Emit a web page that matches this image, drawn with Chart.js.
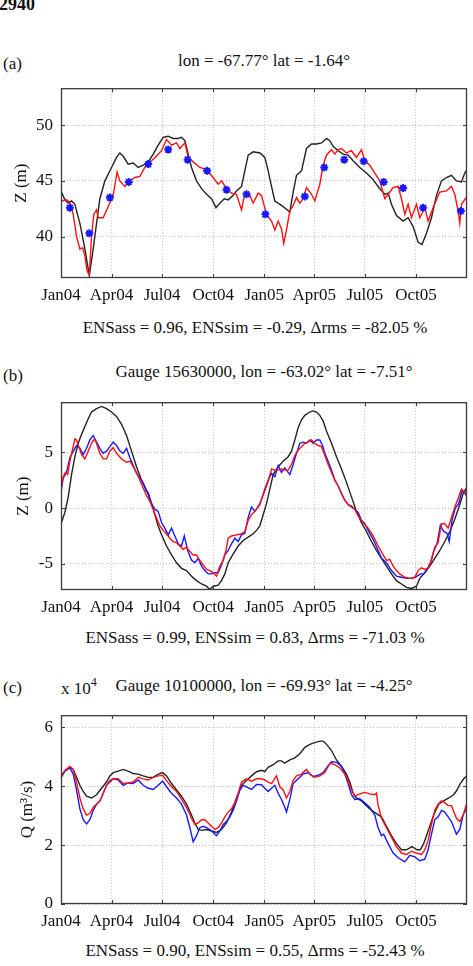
<!DOCTYPE html>
<html>
<head>
<meta charset="utf-8">
<script src="https://cdn.jsdelivr.net/npm/chart.js@4.4.1/dist/chart.umd.min.js"></script>
<style>
html, body { margin: 0; padding: 0; background: #fff; }
#page { position: relative; width: 473px; height: 966px; overflow: hidden; background: #fff;
        font-family: 'Liberation Serif', 'Times New Roman', serif; color: #111; }
#page canvas { position: absolute; left: 0; }
.t { position: absolute; font-size: 17px; line-height: 1; white-space: nowrap; transform: translate(-50%, -50%); }
.l { position: absolute; font-size: 17px; line-height: 1; white-space: nowrap; transform: translateY(-50%); }
#pageno { position: absolute; left: -1px; top: -5px; font-size: 18px; font-weight: bold; line-height: 18px; }
.exp { font-size: 12px; position: relative; top: -8px; }
</style>
</head>
<body>
<div id="page">
    <div id="pageno">2940</div>

    <div class="l" style="left:3px; top:63px">(a)</div>
    <div class="t" style="left:264px; top:59.5px">lon = -67.77° lat = -1.64°</div>
    <canvas id="chart_a" width="473" height="240" style="top:70px"></canvas>
    <div class="t" style="left:255px; top:326.5px">ENSass = 0.96, ENSsim = -0.29, Δrms = -82.05 %</div>

    <div class="l" style="left:3px; top:374.5px">(b)</div>
    <div class="t" style="left:264px; top:371px">Gauge 15630000, lon = -63.02° lat = -7.51°</div>
    <canvas id="chart_b" width="473" height="240" style="top:384px"></canvas>
    <div class="t" style="left:255px; top:636.5px">ENSass = 0.99, ENSsim = 0.83, Δrms = -71.03 %</div>

    <div class="l" style="left:3px; top:686.5px">(c)</div>
    <div class="l" style="left:61px; top:688px">x 10<span class="exp">4</span></div>
    <div class="t" style="left:264px; top:685px">Gauge 10100000, lon = -69.93° lat = -4.25°</div>
    <canvas id="chart_c" width="473" height="240" style="top:697px"></canvas>
    <div class="t" style="left:255px; top:949.5px">ENSass = 0.90, ENSsim = 0.55, Δrms = -52.43 %</div>
</div>

<script>
// ── Axes (days since 1 Jan 2004) ─────────────────────────────────────────────
var xTickDays   = [0, 91, 182, 274, 366, 456, 547, 639];
var xTickLabels = ['Jan04', 'Apr04', 'Jul04', 'Oct04', 'Jan05', 'Apr05', 'Jul05', 'Oct05'];
var xEndDay     = 731;

var aYTicks = [40, 45, 50];
var bYTicks = [-5, 0, 5];
var cYTicks = [0, 2, 4, 6];

// ── (a) water level Z (m), lon -67.77 lat -1.64 ──────────────────────────────
// free run (black)
var aSimDays = [0,7,13,19,25,34,43,51,58,64,70,79,91,100,106,112,121,130,139,148,157,166,175,184,193,202,211,217,223,229,235,244,253,262,271,279,286,294,301,310,316,325,331,337,346,358,367,373,379,385,397,405,412,418,424,433,442,451,460,469,478,484,490,499,508,517,526,538,550,562,574,583,589,595,604,616,625,634,643,650,658,667,676,685,694,703,712,721,727,731];
var aSimZ    = [44.1,43.3,43.0,43.2,42.9,41.2,38.9,36.5,38.9,41.2,43.4,45.0,46.2,47.1,47.5,47.2,46.5,46.6,46.2,46.4,46.7,47.4,48.2,48.9,49.0,48.8,48.8,48.9,48.6,47.4,46.2,45.0,44.3,43.8,43.4,42.6,43.0,43.4,43.3,43.7,44.1,44.5,45.9,47.3,47.6,47.5,47.1,45.9,44.5,43.2,42.8,42.5,42.2,44.0,45.5,45.9,47.9,48.3,48.3,48.4,48.8,48.6,48.1,47.7,47.4,47.3,46.8,46.2,45.7,45.1,44.3,43.8,43.9,42.9,41.9,41.4,41.7,40.9,39.5,39.3,40.3,41.7,43.7,45.0,45.3,45.5,45.0,44.9,45.7,46.0];
// assimilation run (red)
var aAssDays = [0,10,16,22,28,34,39,43,47,51,55,59,64,67,76,85,94,101,106,115,124,133,142,154,163,172,181,190,199,208,214,223,229,238,250,262,274,283,289,298,307,316,325,331,340,346,355,361,370,379,385,391,397,401,406,412,418,424,430,436,442,451,457,466,472,478,487,493,499,505,514,523,532,541,547,556,565,574,583,589,598,607,613,619,625,631,640,646,655,661,670,682,694,703,709,715,718,721,731];
var aAssZ    = [43.2,43.3,43.1,42.0,40.0,38.9,39.0,38.3,36.9,36.6,40.0,42.0,42.4,41.7,41.7,42.7,43.7,45.8,45.0,44.5,45.0,45.3,45.4,46.5,46.8,47.2,47.7,48.7,48.2,48.4,47.9,48.4,47.1,46.7,46.2,46.0,45.3,44.7,45.0,44.3,43.9,43.8,42.4,43.9,43.7,43.0,43.9,43.7,42.0,41.4,40.6,41.4,40.7,39.4,40.6,42.3,42.8,43.5,43.0,43.4,44.4,43.8,43.2,44.7,46.4,47.3,47.8,47.4,47.8,47.9,47.5,47.7,47.1,47.8,46.8,46.4,45.7,45.0,43.4,43.8,44.4,44.5,43.4,42.0,42.9,41.7,42.9,41.7,42.6,41.4,42.6,44.0,44.1,44.5,43.8,42.3,41.2,42.9,43.6];
// altimetry (blue stars)
var aObsDays = [16,51,88,122,157,193,228,263,298,334,368,439,474,510,545,581,616,652,720];
var aObsZ    = [42.6,40.3,43.5,44.9,46.5,47.8,46.9,45.9,44.2,43.8,42.0,43.6,46.2,46.9,46.75,44.9,44.35,42.6,42.3];

// ── (b) water level Z (m), gauge 15630000 ────────────────────────────────────
var bSimDays = [0,7,13,19,25,31,37,43,49,55,64,73,82,91,100,109,118,127,136,145,154,163,169,175,181,190,199,208,217,226,235,244,253,262,268,274,283,289,295,301,310,319,328,337,346,352,358,364,370,376,382,391,400,409,415,421,427,433,439,448,454,460,466,472,478,487,496,505,514,523,532,541,550,559,568,577,586,595,604,613,622,631,640,646,655,664,673,682,691,700,709,718,724,731];
var bSimZ    = [-1.4,-0.4,1.0,3.0,4.6,5.8,6.6,7.3,8.0,8.6,8.9,9.1,8.9,8.6,8.2,7.5,6.5,5.1,3.7,2.5,1.6,0.4,-0.6,-1.6,-2.4,-3.4,-4.2,-4.9,-5.4,-5.6,-6.1,-6.5,-6.8,-7.0,-7.3,-7.0,-6.9,-6.5,-5.9,-4.9,-4.1,-3.4,-2.9,-2.6,-2.3,-2.0,-1.6,-0.6,0.4,1.7,3.0,3.7,4.2,4.6,5.1,6.1,7.2,7.9,8.3,8.6,8.7,8.6,8.3,7.8,6.9,5.8,4.6,3.5,2.3,1.0,-0.3,-1.3,-2.1,-3.0,-3.8,-4.5,-5.2,-5.9,-6.5,-6.8,-7.1,-7.2,-7.0,-6.3,-5.8,-5.2,-4.5,-3.8,-3.0,-2.1,-1.0,0.3,1.3,1.9];
var bAssDays = [0,4,8,12,16,20,25,28,32,37,43,49,55,60,64,70,76,82,88,94,100,109,118,124,130,136,142,148,154,160,166,172,178,184,190,196,202,208,214,220,226,232,238,244,250,256,262,268,274,280,286,292,297,301,307,316,325,331,337,343,349,358,367,373,379,385,391,397,403,409,415,421,427,433,439,445,451,457,463,469,475,481,487,493,499,505,511,517,523,529,535,544,553,562,571,580,586,592,598,604,610,619,628,637,643,649,655,661,667,673,679,685,691,697,703,709,715,721,727,731];
var bAssZ    = [1.8,2.8,3.2,3.0,4.2,5.1,6.2,6.1,5.5,4.8,4.4,5.1,5.8,6.2,5.8,4.9,4.4,4.4,5.1,5.4,4.9,4.4,4.1,4.2,3.7,3.2,2.5,1.8,1.1,0.6,-0.1,-0.9,-1.6,-2.0,-2.3,-2.7,-3.0,-3.1,-3.4,-3.7,-3.5,-3.9,-4.2,-4.2,-4.7,-5.1,-5.5,-5.6,-5.8,-6.1,-5.2,-4.7,-3.8,-2.7,-2.5,-2.4,-2.3,-2.1,-1.1,-0.6,-0.3,0.4,1.55,2.4,3.5,3.4,3.4,3.5,3.4,3.4,3.9,4.7,5.2,5.5,5.8,5.9,6.1,5.8,5.6,5.5,4.7,3.9,3.2,2.5,2.0,1.3,0.7,0.3,0.2,-0.1,-0.7,-1.3,-1.8,-2.5,-3.4,-4.2,-4.7,-4.6,-5.2,-5.6,-5.9,-6.2,-6.3,-6.2,-5.6,-5.35,-5.5,-5.35,-4.7,-3.5,-3.1,-1.4,-1.4,-1.8,-0.85,0.1,0.85,1.7,1.4,1.55];
var bObsDays = [0,4,10,16,22,28,34,40,46,52,58,64,70,76,82,88,94,100,106,112,118,124,130,136,142,148,153,157,163,169,175,181,187,193,199,205,211,217,222,228,235,241,247,253,259,265,271,277,283,289,295,301,307,313,319,325,331,337,343,349,358,367,373,379,385,391,397,403,412,418,424,430,436,442,448,454,460,466,471,475,481,487,493,499,505,511,517,526,535,541,547,553,562,571,577,586,595,604,613,622,632,638,647,653,659,665,671,677,683,689,695,699,704,710,716,722,728,731];
var bObsZ    = [1.4,2.7,3.2,4.5,5.1,5.6,5.35,4.8,5.35,6.1,6.5,5.9,5.35,4.9,5.1,5.5,5.9,5.6,5.1,4.9,5.35,4.5,3.8,3.1,2.7,2.25,1.55,1.4,0.4,-0.1,-0.3,-1.3,-1.8,-2.4,-1.8,-2.5,-3.2,-3.4,-2.5,-3.8,-4.65,-4.9,-4.5,-5.2,-5.6,-5.9,-5.9,-5.8,-5.8,-5.1,-4.2,-3.8,-3.2,-2.7,-3.0,-2.4,-2.25,-0.85,0.1,-0.3,0.3,1.7,2.5,3.1,2.8,3.8,3.2,3.6,3.0,3.9,4.9,5.8,5.9,5.8,6.1,5.8,6.1,6.1,5.6,4.9,4.2,3.4,2.5,2.0,1.3,0.7,0.3,0,-0.4,-1.1,-1.4,-2.0,-2.8,-3.8,-4.5,-4.9,-5.6,-6.1,-6.2,-6.3,-6.3,-6.2,-5.9,-5.9,-5.5,-4.9,-3.9,-3.2,-1.55,-2.1,-2.25,-3.0,-1.1,0,0.4,1.55,1.3,1.0];

// ── (c) discharge Q (x 10^4 m3/s), gauge 10100000 ────────────────────────────
var cSimDays = [0,7,16,22,28,34,40,46,55,64,73,82,88,94,103,112,121,130,139,148,157,166,175,183,190,199,208,217,226,235,241,247,253,262,271,280,289,298,307,316,325,334,343,352,361,367,373,382,391,397,403,412,421,430,439,448,457,466,472,478,487,496,505,514,520,526,532,541,550,559,568,577,586,595,604,613,622,632,641,647,653,659,665,671,680,689,698,707,713,719,725,731];
var cSimQ    = [4.30,4.51,4.64,4.57,4.30,4.03,3.82,3.66,3.60,3.71,3.93,4.14,4.35,4.46,4.51,4.57,4.51,4.43,4.41,4.35,4.30,4.30,4.41,4.46,4.35,4.09,3.87,3.66,3.39,3.02,2.75,2.53,2.50,2.53,2.48,2.43,2.53,2.75,3.12,3.60,4.03,4.19,4.35,4.49,4.54,4.49,4.64,4.73,4.86,4.86,4.78,4.89,4.96,5.10,5.32,5.42,5.48,5.53,5.53,5.42,5.21,4.89,4.67,4.41,4.14,3.76,3.60,3.50,3.34,3.18,3.07,2.96,2.64,2.32,2.05,1.84,1.84,1.95,1.84,1.84,2.05,2.37,2.70,3.02,3.39,3.50,3.60,3.71,3.87,4.09,4.25,4.35];
var cAssDays = [0,7,16,22,28,34,40,46,52,58,64,70,76,82,88,94,103,112,121,130,139,148,157,166,175,183,190,199,208,217,226,235,241,247,253,259,265,271,277,283,289,295,301,307,313,319,325,334,343,352,361,367,373,379,388,394,400,406,412,418,424,433,442,448,457,466,475,484,493,502,511,517,523,529,538,547,556,565,568,571,577,586,595,604,613,622,631,640,649,655,661,667,673,679,685,691,697,703,712,718,724,731];
var cAssQ    = [4.35,4.53,4.67,4.57,4.14,3.60,3.23,3.02,3.07,3.28,3.39,3.50,3.76,4.03,4.19,4.25,4.25,4.09,4.11,4.14,4.30,4.25,4.21,4.30,4.35,4.37,4.19,3.98,3.82,3.55,3.28,2.91,2.70,2.75,2.86,2.86,2.75,2.64,2.53,2.59,2.75,2.96,3.12,3.23,3.44,3.76,4.14,4.25,4.17,4.25,4.25,4.21,4.14,4.09,4.35,3.98,3.87,3.60,3.82,4.19,4.35,4.41,4.57,4.41,4.30,4.35,4.46,4.78,4.73,4.62,4.41,4.19,3.87,3.66,3.74,3.79,3.74,3.71,3.76,3.34,2.91,2.59,2.27,1.95,1.73,1.68,1.79,1.73,1.68,1.84,2.16,2.70,3.18,3.39,3.50,3.44,3.34,3.34,2.91,2.80,3.02,3.44];
var cObsDays = [0,7,16,22,28,34,40,46,52,58,64,70,76,82,88,94,103,112,121,130,139,148,157,166,175,183,190,199,208,217,226,232,238,244,250,256,262,268,274,280,286,292,298,304,310,316,322,328,334,343,352,361,367,373,379,385,391,397,403,406,412,418,427,436,445,454,463,472,478,487,496,505,511,517,523,529,538,547,556,565,571,577,581,589,598,607,619,628,637,646,655,661,667,673,679,685,691,697,703,712,718,724,731];
var cObsQ    = [4.30,4.51,4.62,4.41,3.87,3.23,2.86,2.72,2.86,3.18,3.39,3.50,3.76,4.03,4.14,4.25,4.21,4.03,4.11,4.09,4.21,4.03,3.93,3.89,4.03,4.17,3.98,3.76,3.60,3.39,3.02,2.59,2.11,2.32,2.59,2.64,2.59,2.53,2.43,2.32,2.48,2.70,2.80,2.96,3.18,3.50,3.87,4.03,3.98,3.89,4.06,4.05,3.93,3.82,3.93,4.03,3.76,3.55,3.28,3.12,3.55,4.09,4.25,4.41,4.46,4.32,4.37,4.46,4.62,4.83,4.81,4.67,4.41,4.09,3.71,3.55,3.57,3.44,3.28,3.02,2.59,2.32,2.37,2.05,1.73,1.57,1.43,1.65,1.60,1.47,1.52,1.84,2.37,2.86,2.96,3.18,3.12,2.96,2.80,2.37,2.53,3.02,3.28];

(function () {

    // ── Réglages communs ──────────────────────────────────────────────────────
    Chart.defaults.font.family = "'Liberation Serif', 'Times New Roman', serif";
    Chart.defaults.font.size   = 17;
    Chart.defaults.color       = '#111';

    var RED   = '#ff1010';
    var BLUE  = '#1818ff';
    var BLACK = '#222222';

    function pts(days, vals) {
        return days.map(function (d, i) { return { x: d, y: vals[i] }; });
    }

    function curve(days, vals, color) {
        return {
            data: pts(days, vals),
            borderColor: color,
            borderWidth: 1.4,
            pointRadius: 0,
            fill: false,
            tension: 0
        };
    }

    // ── Cadre et graduations intérieures façon MATLAB ─────────────────────────
    var boxPlugin = {
        id: 'matlabBox',
        afterDraw: function (chart) {
            var a = chart.chartArea, ctx = chart.ctx;
            var sx = chart.scales.x, sy = chart.scales.y;
            ctx.save();
            ctx.strokeStyle = '#3a3a3a';
            ctx.lineWidth = 1;
            ctx.beginPath();
            sx.ticks.forEach(function (t) {
                var px = Math.round(sx.getPixelForValue(t.value)) + 0.5;
                ctx.moveTo(px, a.top);    ctx.lineTo(px, a.top + 4);
                ctx.moveTo(px, a.bottom); ctx.lineTo(px, a.bottom - 4);
            });
            sy.ticks.forEach(function (t) {
                var py = Math.round(sy.getPixelForValue(t.value)) + 0.5;
                ctx.moveTo(a.left, py);  ctx.lineTo(a.left + 4, py);
                ctx.moveTo(a.right, py); ctx.lineTo(a.right - 4, py);
            });
            ctx.stroke();
            ctx.lineWidth = 1.3;
            ctx.strokeRect(a.left + 0.5, a.top + 0.5, a.right - a.left - 1, a.bottom - a.top - 1);
            ctx.restore();
        }
    };

    // ── Construction d'un panneau ─────────────────────────────────────────────
    function makePanel(id, p) {
        var canvas = document.getElementById(id);
        var top    = canvas.offsetTop;
        var xh     = canvas.height - (p.plotBottom - top);

        return new Chart(canvas.getContext('2d'), {
            type: 'line',
            data: { datasets: p.datasets },
            options: {
                responsive: false,
                animation: false,
                devicePixelRatio: 1,
                layout: { padding: { top: p.plotTop - top, right: 6, left: 0, bottom: 0 } },
                plugins: { legend: { display: false }, tooltip: { enabled: false } },
                scales: {
                    x: {
                        type: 'linear',
                        min: 0,
                        max: xEndDay,
                        afterBuildTicks: function (s) {
                            s.ticks = xTickDays.map(function (v) { return { value: v }; });
                        },
                        afterFit: function (s) { s.height = xh; },
                        grid: { color: '#c4c4c4', lineWidth: 1, drawTicks: false },
                        border: { display: false, dash: [1, 2] },
                        ticks: {
                            autoSkip: false,
                            maxRotation: 0,
                            padding: 7,
                            callback: function (v, i) { return xTickLabels[i]; }
                        }
                    },
                    y: {
                        type: 'linear',
                        min: p.yMin,
                        max: p.yMax,
                        afterBuildTicks: function (s) {
                            s.ticks = p.yTicks.map(function (v) { return { value: v }; });
                        },
                        afterFit: function (s) { s.width = 61; },
                        grid: { color: '#c4c4c4', lineWidth: 1, drawTicks: false },
                        border: { display: false, dash: [1, 2] },
                        ticks: { padding: 8 },
                        title: { display: true, text: p.yTitle, padding: { top: p.yTitlePad, bottom: 0 } }
                    }
                }
            },
            plugins: [boxPlugin]
        });
    }

    // ── (a) ───────────────────────────────────────────────────────────────────
    var stars = {
        data: pts(aObsDays, aObsZ),
        showLine: false,
        pointStyle: 'star',
        pointRadius: 4,
        pointBorderWidth: 2,
        pointBorderColor: BLUE,
        borderColor: BLUE
    };
    makePanel('chart_a', {
        plotTop: 77, plotBottom: 278,
        yMin: 36.3, yMax: 53.3, yTicks: aYTicks,
        yTitle: 'Z (m)', yTitlePad: 11.5,
        datasets: [stars, curve(aAssDays, aAssZ, RED), curve(aSimDays, aSimZ, BLACK)]
    });

    // ── (b) ───────────────────────────────────────────────────────────────────
    makePanel('chart_b', {
        plotTop: 391, plotBottom: 590,
        yMin: -7.34, yMax: 9.48, yTicks: bYTicks,
        yTitle: 'Z (m)', yTitlePad: 13.5,
        datasets: [curve(bAssDays, bAssZ, RED), curve(bObsDays, bObsZ, BLUE), curve(bSimDays, bSimZ, BLACK)]
    });

    // ── (c) ───────────────────────────────────────────────────────────────────
    makePanel('chart_c', {
        plotTop: 704, plotBottom: 904,
        yMin: 0, yMax: 6.41, yTicks: cYTicks,
        yTitle: 'Q (m³/s)', yTitlePad: 17.8,
        datasets: [curve(cAssDays, cAssQ, RED), curve(cObsDays, cObsQ, BLUE), curve(cSimDays, cSimQ, BLACK)]
    });

})();
</script>
</body>
</html>
